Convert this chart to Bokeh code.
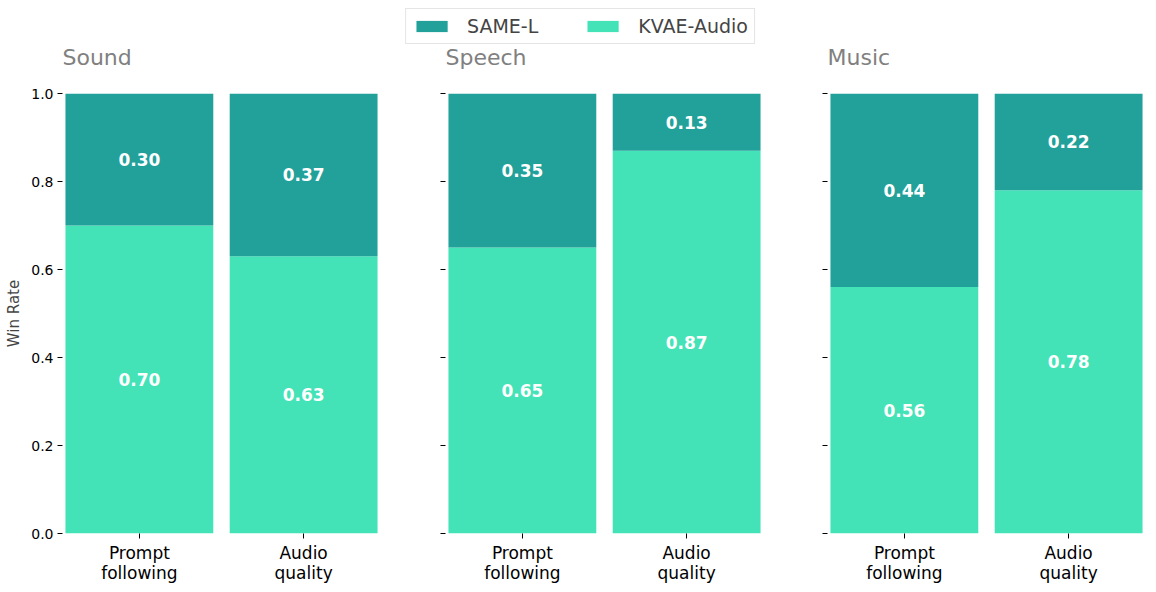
from bokeh.plotting import figure
from bokeh.layouts import row, column
from bokeh.models import FixedTicker, Legend, LegendItem, ColumnDataSource
from bokeh.core.properties import value
from bokeh.embed import file_html
from bokeh.resources import INLINE

# ---- data ----
categories = ["Prompt\nfollowing", "Audio\nquality"]
groups = ["Sound", "Speech", "Music"]
kvae_sound = [0.70, 0.63]
kvae_speech = [0.65, 0.87]
kvae_music = [0.56, 0.78]
same_sound = [0.30, 0.37]
same_speech = [0.35, 0.13]
same_music = [0.44, 0.22]
y_ticks = [0.0, 0.2, 0.4, 0.6, 0.8, 1.0]
series_names = ["SAME-L", "KVAE-Audio"]

kvae_all = [kvae_sound, kvae_speech, kvae_music]
same_all = [same_sound, same_speech, same_music]

C_SAME = "#21a19a"
C_KVAE = "#43e3b7"
FONT = "DejaVu Sans"

HH = 76          # header strip (legend + panel titles)
H = 513          # panel figures
TOP = 17
BOTTOM = 56
widths = [380, 383, 391]
left_b = [62, 65, 64]
right_b = [0, 0, 9]

headers = []
figs = []
for i, g in enumerate(groups):
    # header with the panel title
    h = figure(width=widths[i], height=HH, x_range=(0, 1), y_range=(0, 1),
               output_backend="svg", toolbar_location=None, title=g,
               title_location="below", x_axis_type=None, y_axis_type=None,
               min_border=0, min_border_bottom=HH - 44, outline_line_color=None)
    h.grid.visible = False
    h.title.text_font = FONT
    h.title.text_font_size = "22px"
    h.title.text_font_style = "normal"
    h.title.text_color = "#808080"
    h.title.align = "left"
    h.title.vertical_align = "top"
    h.title.offset = left_b[i]
    h.title.standoff = 0
    headers.append(h)

    xs = list(range(len(categories)))
    k = kvae_all[i]
    s = same_all[i]
    src = ColumnDataSource(dict(
        x=xs, kvae=k, same=s,
        mid_k=[v / 2 for v in k],
        mid_s=[a + b / 2 for a, b in zip(k, s)],
        lab_k=["%.2f" % v for v in k],
        lab_s=["%.2f" % v for v in s],
    ))
    p = figure(width=widths[i], height=H, x_range=(-0.468, 1.468), y_range=(0, 1),
               output_backend="svg", toolbar_location=None,
               min_border=0, min_border_left=left_b[i], min_border_right=right_b[i],
               min_border_top=TOP, min_border_bottom=BOTTOM)
    p.vbar_stack(["kvae", "same"], x="x", width=0.9, color=[C_KVAE, C_SAME],
                 line_color=None, source=src)
    for yk, tk in (("mid_k", "lab_k"), ("mid_s", "lab_s")):
        p.text(x="x", y=yk, text=tk, source=src, text_color="white",
               text_font=value(FONT), text_font_style="bold", text_font_size="17px",
               text_align="center", text_baseline="middle")
    p.outline_line_color = None
    p.grid.visible = False

    p.xaxis.ticker = FixedTicker(ticks=xs)
    p.xaxis.major_label_overrides = {x: c for x, c in zip(xs, categories)}
    p.yaxis.ticker = FixedTicker(ticks=y_ticks)
    if i == 0:
        p.yaxis.major_label_overrides = {t: "%.1f" % t for t in y_ticks}
    else:
        p.yaxis.major_label_overrides = {t: "" for t in y_ticks}
    for ax in (p.xaxis[0], p.yaxis[0]):
        ax.axis_line_color = None
        ax.major_tick_line_color = "black"
        ax.major_tick_out = 5
        ax.major_tick_in = 0
        ax.minor_tick_out = 0
        ax.minor_tick_in = 0
        ax.major_label_text_font = FONT
        ax.major_label_text_color = "black"
        ax.major_label_standoff = 4
    p.xaxis.major_label_text_font_size = "17px"
    p.xaxis.major_label_text_line_height = 1.0
    p.yaxis.major_label_text_font_size = "14px"
    if i == 0:
        p.yaxis.axis_label = "Win Rate"
        p.yaxis.axis_label_text_font = FONT
        p.yaxis.axis_label_text_font_size = "15px"
        p.yaxis.axis_label_text_font_style = "normal"
        p.yaxis.axis_label_standoff = 5
    figs.append(p)

# ---- legend in the middle header ----
h2 = headers[1]
r_same = h2.vbar(x=[0.5], top=[1], width=0.9, color=C_SAME, line_color=None, visible=False)
r_kvae = h2.vbar(x=[0.5], top=[1], width=0.9, color=C_KVAE, line_color=None, visible=False)
leg = Legend(items=[LegendItem(label=series_names[0], renderers=[r_same]),
                    LegendItem(label=series_names[1], renderers=[r_kvae])],
             orientation="horizontal", location="top_right",
             glyph_width=39, glyph_height=14, label_standoff=16, spacing=45,
             padding=6, margin=8, label_height=20,
             label_text_font=FONT, label_text_font_size="19px",
             border_line_color="#cccccc", border_line_width=1,
             background_fill_color="white", background_fill_alpha=1)
h2.add_layout(leg, "center")

layout = column(row(*headers), row(*figs))
open("out.html", "w").write(file_html(layout, INLINE))
